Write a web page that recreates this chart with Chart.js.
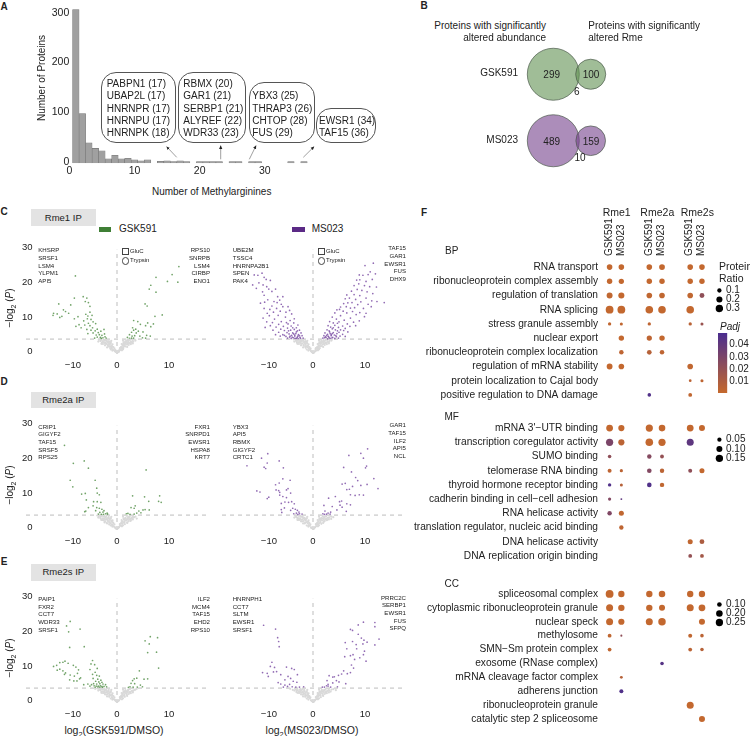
<!DOCTYPE html>
<html>
<head>
<meta charset="utf-8">
<title>Methylarginine figure</title>
<script src="https://cdn.jsdelivr.net/npm/chart.js@4"></script>
<style>
  html, body { margin: 0; padding: 0; background: #fff; }
  body { position: relative; width: 750px; height: 736px; overflow: hidden; font-family: "Liberation Sans", Arial, sans-serif; color: #222; }
  canvas { position: absolute; }
  .t { position: absolute; white-space: nowrap; line-height: 1; }
  .box { position: absolute; border: 0.8px solid #555; border-radius: 15px; box-sizing: border-box; }
  .block { position: absolute; }
  sub { font-size: 0.7em; line-height: 0; }
</style>
</head>
<body>
<svg style="position:absolute;left:0;top:0" width="750" height="200">
  <defs><marker id="ah" markerWidth="5" markerHeight="5" refX="4" refY="2.5" orient="auto"><path d="M0,0.5 L4.5,2.5 L0,4.5 z" fill="#222"/></marker></defs>
  <g stroke="#888" stroke-width="0.8" marker-end="url(#ah)">
    <line x1="176.7" y1="157.3" x2="166.7" y2="146.7" marker-end="url(#ah)"/>
    <line x1="220.7" y1="159.3" x2="220.7" y2="145.7" marker-end="url(#ah)"/>
    <line x1="249.3" y1="159.3" x2="256" y2="145.7" marker-end="url(#ah)"/>
    <line x1="303.3" y1="157.3" x2="314" y2="146.7" marker-end="url(#ah)"/>
  </g>
</svg>
<script>
// panel A
const histBins = [1,2,3,4,5,6,7,8,9,10,11,12,14,15,16,17,18,20,21,22,23,25,26,28,29,34,36];
const histCounts = [309,100,41,30,25,9,16,9,10,7,5,7,4,5,3,5,2,1,2,1,1,1,1,1,1,1,1];
const histXTicks = [0,10,20,30];
const histYTicks = [0,100,200,300];
const geneBox1 = ['PABPN1 (17)','UBAP2L (17)','HNRNPR (17)','HNRNPU (17)','HNRNPK (18)'];
const geneBox2 = ['RBMX (20)','GAR1 (21)','SERBP1 (21)','ALYREF (22)','WDR33 (23)'];
const geneBox3 = ['YBX3 (25)','THRAP3 (26)','CHTOP (28)','FUS (29)'];
const geneBox4 = ['EWSR1 (34)','TAF15 (36)'];

// panel B
const vennRows = ['GSK591','MS023'];
const vennAbundance = [299,489];
const vennRme = [100,159];
const vennBoth = [6,10];

// panels C, D, E
const volcanoXTicks = [-10,0,10];
const volcanoYTicks = [0,10,20,30];
const pCutoff = 4.32;

// the dense grey middle of the V, read roughly, the same look in every panel
const grayCore = [[-.5,1.6],[.55,1.7],[-.7,2],[.75,1.9],[-1,2.4],[1.05,2.5],[-.85,2.8],[.9,2.9],[-1.2,3.35],[1.25,3.4],[-1.1,3.8],[1.15,3.9],[-1.5,2.1],[1.45,2.25],[-1.8,2.6],[1.85,2.75],[-2,3.1],[2.05,3.2],[-2.3,3],[2.35,3.1],[-2.5,3.35],[2.55,3.2],[-1.4,3],[1.35,3.05],[-1.7,3.5],[1.65,3.55],[-2.1,3.9],[2.15,3.7],[-2.4,4],[2.45,4.05],[-2.8,3.4],[2.85,3.5],[-3.2,3.75],[3.15,3.6],[-3.6,3.6],[3.55,3.9],[-1.9,1.9],[1.95,2.05],[-2.3,2.5],[2.25,2.6],[-1.2,1.3],[1.15,1.35],[-.9,1],[.95,1.05],[-.3,.7],[.35,.75],[-1.6,3.4],[1.55,3.3],[-2.7,2.9],[2.65,2.85],[-3,2.95],[3.05,3.05]];

const c1Gray = [[0,0],[.2,.5],[-.2,.6],[.4,.7],[-.4,.8],[.5,1.1],[-.6,1.1],[.7,1.2],[-.8,1.3],[.9,1.5],[-1,1.6],[1,1.9],[-1.1,2],[1.2,2],[-1.3,2.2],[1.3,2.5],[-1.4,2.6],[1.5,2.8],[-1.6,2.9],[1.7,3],[-1.7,3.3],[1.8,3.5],[-1.9,3.6],[1.9,3.9],[-2,3.9],[2.1,4.1],[-2.2,4.2],[1.6,4.1],[-1.6,4.1],[.8,2],[-.9,2.1],[1.1,2.8],[-1.2,3],[1.4,3.4],[-1.4,3.6],[2.2,3.3],[-2.3,3.4],[2.6,3.6],[-2.7,3.7],[3,3.9],[-3.1,4],[2,2.8],[-2.1,2.9],[1.6,2.2],[-1.7,2.3],[1.2,1.6],[-1.3,1.7],[3.4,4.2],[-3.5,4.1],[2.5,4.2],[-2.6,4.2],[.3,1],[-.3,1.1],[2.9,3.2],[-2.9,3.3]];
const c1Sig = [[-8,22.6],[-6.5,16.6],[-5.8,16.2],[-8.2,16.2],[-6.1,15.2],[-5.5,14.9],[-11.2,14.5],[-8.9,14.2],[-5.2,13.8],[-10.3,12.8],[-12.2,11.8],[-11.5,11.6],[-9.9,12.3],[-9.3,11.8],[-10.6,10.9],[-12.3,11.2],[-11,10.6],[-8.2,10.2],[-7.5,10.8],[-6,11.5],[-5.6,11],[-5.2,12.1],[-4.8,11.2],[-5.7,10.2],[-5,10],[-6.4,9.6],[-7.3,8.5],[-6.2,8.4],[-5.5,8.9],[-4.6,9.3],[-5.2,8.2],[-4.1,8.8],[-3.8,7.2],[-4.7,7.6],[-7.9,8],[-6.9,7.6],[-5.8,7.1],[-5,6.9],[-4.2,6.7],[-3.6,6.2],[-3.1,6.6],[-2.5,7.1],[-4.6,6.1],[-5.6,5.9],[-4,5.5],[-3.4,5.6],[-2.9,5.4],[-2.4,5.8],[-3.8,4.9],[-3.2,4.8],[-2.7,4.7],[-2.3,5],[-2.1,4.6],[-4.3,4.6],[-3,4.5],[7.5,22.2],[11.9,25.3],[10.6,23],[9.7,21],[11.7,20.8],[6.5,19.9],[6.2,18.8],[7.5,17.9],[5.4,14.5],[5.8,13.9],[8.7,11.3],[7.3,10.9],[3.2,9.7],[4,9.4],[5.9,9],[5.5,8.2],[3,7.6],[3.6,7.2],[4.5,8.6],[7,8.7],[6.5,7.9],[4.1,6.6],[3.2,6.9],[2.8,6.3],[3.7,6.1],[5,6.4],[5.7,5.4],[2.4,5.6],[2.9,5.2],[3.4,5.3],[4.4,5.2],[2,4.8],[2.4,4.5],[2.8,4.6],[3.2,4.6],[4.9,4.7],[5.5,4.6],[6.4,5.2]];

const c2Gray = [[0,0],[.2,.4],[-.2,.5],[.4,.8],[-.4,.9],[.6,1],[-.6,1.2],[.8,1.4],[-.8,1.5],[1,1.6],[-1,1.9],[1.1,2.1],[-1.2,2.2],[1.3,2.4],[-1.4,2.6],[1.5,2.9],[-1.6,3],[1.7,3.2],[-1.7,3.4],[1.9,3.6],[-1.9,3.8],[2,4],[-2.1,4.1],[1.6,3.9],[-1.5,3.7],[2.4,3.4],[-2.5,3.5],[2.8,3.7],[-2.9,3.8],[3.2,4],[-3.3,3.9],[2.1,2.9],[-2.2,3],[1.7,2.3],[-1.8,2.4],[1.3,1.7],[-1.4,1.8],[.9,2],[-.9,2.2],[1.1,3],[-1.1,3.1],[2.5,4.2],[-2.6,4.1],[3.6,4.2],[-3.7,4.2],[3,3.2],[-3.1,3.3],[.5,1.4],[-.5,1.5],[2.2,3.8],[-2.2,3.7],[1.4,3.4],[-1.3,3.5]];
const c2Sig = [[-11.3,22.9],[-10.6,22.8],[-9.8,23.4],[-9.4,22.2],[-9,21.6],[-8.2,21.3],[-11.6,20],[-10.4,20.6],[-9.6,20],[-8.9,19.5],[-10.9,19],[-7.2,18.8],[-8.5,18.8],[-9.7,18],[-7.9,18.1],[-6.8,16.6],[-5.8,16.6],[-9.4,17],[-8.7,15.7],[-6.4,15.6],[-10.1,14.7],[-9.3,15],[-7.5,15.2],[-6.9,14.9],[-6.1,14.4],[-7.9,13.9],[-4.8,13.7],[-5.8,13.7],[-7,13.2],[-9.4,13.2],[-8.3,12.9],[-6.3,12.4],[-4.5,12.6],[-5.2,12.1],[-7.6,12.1],[-8.8,11.8],[-4.1,11.6],[-6.7,11.2],[-8.4,11.1],[-9.6,10.4],[-5.3,10.7],[-3.6,10.2],[-7.4,10.1],[-6.1,9.4],[-4.4,9.7],[-8.9,9.3],[-5.1,9.1],[-2.9,8.4],[-7.8,9.1],[-3.7,9],[-6.6,8.6],[-4.8,8.7],[-8.2,8.2],[-5.7,8],[-3.2,7.6],[-7.1,7.8],[-4.2,8.1],[-9.2,7.7],[-6.2,7.2],[-2.6,6.9],[-4.9,7.5],[-3.6,7.1],[-7.7,6.9],[-5.5,6.8],[-4.3,6.9],[-3,6.7],[-6.6,6.3],[-2.3,6.1],[-5,6.2],[-3.9,6.1],[-4.6,5.8],[-7.2,5.6],[-3.3,5.9],[-5.8,5.6],[-2.8,5.6],[-4.1,5.4],[-3.5,5.2],[-5.2,5.1],[-2.1,5.3],[-6.3,5.2],[-4.5,4.9],[-3,4.9],[-3.8,4.7],[-2.5,4.8],[-4.9,4.6],[-3.3,4.5],[-2.8,4.4],[-4.2,4.5],[-1.9,4.6],[-3.5,5.5],[-2.9,5.2],[-4.4,5.2],[-3.7,5.8],[-2.6,5.3],[-5.5,5.4],[-3.2,6.4],[-4.7,6.7],[-3.9,7.6],[-2.4,4.5],[-3.1,4.6],[-4,4.9],[-3.6,4.5],[11.6,26.3],[10,25.6],[11,23.8],[12,23.2],[10.6,23],[9.6,22.8],[8.9,22.9],[9,21.5],[8.4,21.4],[10.2,21],[11.4,21.6],[8.8,20.3],[9.9,19.8],[7.9,19.8],[10.9,19.5],[12.2,19.4],[8.5,18.7],[9.4,18.4],[7.4,18.2],[10.4,18],[11.5,17.5],[6.5,17.1],[7.9,17.2],[9,16.9],[6.2,16],[7,16.2],[8.2,15.8],[10.2,16.2],[12.3,15.2],[13.7,14.9],[11.3,15.4],[9.2,15.1],[7.5,14.9],[6.7,14.8],[5.9,14.6],[8.6,14.3],[10.6,14.4],[5.3,13.6],[6.4,13.7],[7.2,13.3],[8,13.4],[9.7,13.2],[11.2,13.7],[5.1,12.9],[4.6,12.8],[5.8,12.4],[7.6,12.3],[9,12],[10.2,11.8],[4.2,11.9],[6.5,11.9],[8.3,11.4],[9.9,10.8],[5.3,11.1],[3.7,10.7],[7.2,10.4],[6,9.8],[4.5,10.1],[8.9,9.6],[5,9.3],[3.2,9.4],[7.8,9.2],[3.9,9],[6.6,8.7],[4.7,8.9],[5.7,8.1],[2.9,8.2],[7.1,8],[4.2,8.3],[8.2,8.2],[6.2,7.4],[3.4,7.8],[4.9,7.7],[3.7,7.3],[5.3,7],[2.7,7],[4.3,7],[3.1,6.7],[6.7,6.4],[2.3,6.1],[5,6.3],[3.9,6.2],[4.6,5.9],[3.3,5.9],[5.7,5.7],[2.8,5.7],[4.1,5.5],[3.5,5.3],[5.2,5.2],[2.1,5.3],[6.2,5.1],[4.5,5],[3,5],[3.8,4.8],[2.5,4.8],[4.9,4.6],[3.3,4.5],[2.8,4.4],[4.2,4.5],[1.9,4.6],[3.5,5.6],[2.9,5.2],[4.4,5.3],[3.7,5.9],[2.6,5.4],[3.2,6.4],[4.7,6.7],[3.9,7.6],[5.9,6.8],[2.4,5],[3.1,4.7],[2.2,4.7],[3.6,4.6]];

const d1Gray = [[0,0],[.2,.5],[-.2,.4],[.4,.9],[-.4,.7],[.6,1.2],[-.6,1],[.8,1.3],[-.8,1.4],[1,1.8],[-1,1.5],[1.2,2.1],[-1.2,1.9],[1.4,2.5],[-1.4,2.3],[1.6,2.8],[-1.6,2.6],[1.8,3.1],[-1.8,3],[2.1,3.4],[-2,3.3],[2.4,3.7],[-2.2,3.6],[2.8,3.3],[-2.5,3.9],[3,3.9],[-2.8,4.1],[1.9,4.1],[-3.1,4],[3.3,3.7],[-3.5,3.8],[-3.8,4.2],[3.8,3.3],[2,2.2],[-2,2.1],[1.5,1.7],[-1.5,1.6],[-2.6,2.8],[2.6,2.6],[-3,3],[-1.1,2.7],[-1.3,3.4],[-1.6,3.8],[.9,2.3],[-.8,2.2],[-2.4,2.2],[-3.2,3.4]];
const d1Sig = [[-10.1,24.5],[-8.4,19.3],[-6.3,20],[-5.5,17.9],[-9,14.4],[-4.2,14.4],[-8.5,12.5],[-3.9,12.1],[-6.8,10.4],[-6.1,10.6],[-3.8,10.7],[-3.4,10.2],[-5.9,8.7],[-4.5,8.2],[-3.8,8.2],[-3.1,8],[-5.5,6.5],[-6,5.5],[-4.6,7],[-3.9,6.5],[-3.4,6.3],[-2.9,6],[-2.5,5.6],[-1.9,4.9],[-6.2,5.3],[-4.1,5.6],[-3.3,5.1],[-2.7,5.2],[-2.2,4.7],[-3.6,4.6],[-3,4.5],[-2.6,4.5],[-1.8,4.6],[5.6,17.4],[3,9.9],[5.3,9.6],[8.2,9.9],[6.1,8.3],[8,8.3],[8.5,8],[3.5,7],[2.7,6.5],[3.3,6.3],[6.2,5.8],[5,5.8],[5.4,5.9],[4.2,5.5],[1.8,4.7],[2.1,4.8],[2.5,4.5],[3.3,4.6],[3.8,4.9],[4.6,5]];
const d2Gray = [[0,0],[.2,.4],[-.2,.5],[.4,.8],[-.4,.7],[.6,1.1],[-.6,1.2],[.8,1.5],[-.8,1.4],[1,1.7],[-1,1.9],[1.2,2],[-1.2,2.3],[1.4,2.6],[-1.4,2.7],[1.6,2.9],[-1.6,3.1],[1.9,3.3],[-1.8,3.4],[2.2,3.6],[-2,3.7],[2.5,3.9],[-2.3,3.9],[3,3.6],[-2.7,4.1],[3.5,3.2],[-3,3.5],[-3.3,3.9],[3.9,3.7],[-2.6,3],[2.1,2.4],[-2.1,2.5],[1.6,1.8],[-1.6,1.9],[2.7,3],[-1.3,3.3],[1.2,3],[-.9,2.4],[.9,2.2],[-3.5,4.2],[1.9,4],[-1.9,4.2],[3.3,4.1],[-2.9,2.9]];
const d2Sig = [[-8.7,22.1],[-9.9,20.8],[-12.7,18.6],[-8.8,19.4],[-6.5,20],[-5.7,18],[-9.4,18.2],[-9.1,17.8],[-5.8,14.8],[-4.4,14.4],[-6.5,13.6],[-7.2,13.1],[-7.1,11.6],[-10.8,11.3],[-10.2,11],[-6.6,11.4],[-6.4,10.9],[-6.4,10.1],[-4.8,12],[-4.3,10.7],[-5.1,11.6],[-8.5,9.5],[-8.8,9.1],[-5.8,9.7],[-5.1,9.4],[-6.1,7.7],[-5.4,8.1],[-4.7,8],[-4.1,8.2],[-3.6,7.6],[-6.1,5.9],[-5.5,6.4],[-6,5.1],[-3.9,6.3],[-4.3,5.7],[-3.4,6],[-3,5.7],[-2.7,5.2],[-3.2,4.9],[-2.6,4.7],[-2.1,4.6],[-2.9,4.5],[-3.7,4.7],[10.5,23.5],[9.2,22.2],[6.9,21.6],[9.7,20.8],[10.3,18.5],[10.1,18],[5.9,18.1],[7.4,16.8],[8.2,15.2],[8.6,14.3],[12.5,12],[11.7,14.9],[5.6,13.3],[6.2,13.5],[7.6,12.6],[9.2,12.9],[10.4,13.2],[7,11.8],[6.5,11.7],[7.2,10.2],[8.1,10],[8.9,10.2],[9.7,10.1],[3,9.2],[4.3,9.7],[5.1,8.2],[5.5,8.4],[2.1,7.1],[3.7,6.8],[5.2,7.2],[5.6,6.6],[6.5,7.6],[7.2,7.3],[2.3,5.5],[3.4,5.2],[2.9,4.9],[1.9,4.7],[2.6,4.6],[2.2,4.5],[3.3,4.6],[4.6,5.8],[6.4,5.4]];

const e1Gray = [[0,0],[.2,.5],[-.2,.5],[.4,.8],[-.4,.9],[.6,1.2],[-.6,1.1],[.8,1.6],[-.8,1.4],[1,1.8],[-1,1.7],[1.2,2.1],[-1.2,2.2],[1.4,2.5],[-1.4,2.4],[1.6,2.9],[-1.6,2.8],[1.8,3.2],[-1.8,3.2],[2,3.6],[-2.1,3.5],[2.2,3.9],[-2.4,3.7],[2.5,4.1],[-2.7,4],[3,3.5],[-3,3.3],[3.4,3.8],[-3.4,3.9],[-3.8,4.2],[1.9,2.4],[-2,2.4],[1.5,1.8],[-1.5,1.8],[2.5,3],[-2.5,2.9],[-1.2,3.1],[1.1,2.8],[-.9,2.2],[.9,2.2],[-1.6,3.8],[1.6,3.7],[-3,4.1],[3.8,4.1],[-4.2,4.1]];
const e1Sig = [[-9,23.6],[-9.7,22.3],[-7.1,21.4],[-9.3,20.6],[-9.1,16.1],[-6.3,16.3],[-4.7,12.3],[-12.2,10.6],[-11.6,10.9],[-11,11.7],[-10.4,11.8],[-10,12.1],[-9.4,11.5],[-8.4,10.9],[-7.9,10.4],[-7.4,9.6],[-11.5,9.5],[-10.4,9.3],[-9.9,8.7],[-9,8.1],[-8.2,7.8],[-7.6,8.6],[-7,7.3],[-11,9.8],[-10.1,8.3],[-9.1,6.7],[-8.3,6.4],[-7.7,6.4],[-7.2,7],[-6.4,5.3],[-5.6,5.5],[-4.9,5.3],[-5,11.3],[-4.3,11.1],[-3.8,10],[-4.2,8.9],[-5.2,9.7],[-4.7,8.3],[-3.9,8],[-3.4,7.8],[-4.6,7.1],[-3.7,6.9],[-3.1,6.6],[-4.1,6.3],[-3.5,6.1],[-2.9,6],[-4.5,5.6],[-3.9,5.5],[-3.3,5.6],[-2.7,5.5],[-2.2,5.3],[-5.2,4.9],[-4.4,5],[-4,4.9],[-3.6,4.9],[-3.2,5],[-2.9,4.8],[-2.5,4.8],[-2,4.7],[-4.2,4.5],[-3.7,4.6],[-3.3,4.6],[-2.8,4.5],[6.4,19.2],[7.8,18.9],[5.4,18],[6.2,17.1],[5.9,14.6],[7.6,14.7],[8,10.1],[4.3,9.3],[3,6.5],[3.3,7],[3.8,7.2],[5.2,6.9],[5.9,7],[2.7,5.7],[3.4,5.6],[4.5,5.2],[4.9,4.7],[2.5,4.7],[3.1,4.6],[3.9,4.6],[2.2,4.5]];
const e2Gray = [[0,0],[.2,.4],[-.2,.5],[.4,.9],[-.4,.8],[.6,1.1],[-.6,1.3],[.8,1.4],[-.8,1.6],[1,1.9],[-1,1.7],[1.2,2.2],[-1.2,2.1],[1.4,2.6],[-1.4,2.4],[1.6,2.9],[-1.6,2.7],[1.8,3.3],[-1.8,3],[2,3.6],[-2,3.3],[2.3,3.8],[-2.3,3.6],[2.6,3.4],[-2.6,3.9],[3,3.9],[-3,3.7],[3.4,3.3],[-3.4,4],[3.9,4],[-3.9,3.8],[1.9,2.3],[-2,2.4],[1.5,1.7],[-1.5,1.8],[2.5,2.9],[-2.6,3],[1.1,2.8],[-1.1,2.9],[.9,2.3],[-.9,2.2],[-4.4,4.1],[4.4,3.7],[1.7,3.8],[-1.7,3.8],[-3.2,3.2]];
const e2Sig = [[-9.5,22.5],[-7.2,21.4],[-6.8,18.9],[-6.6,17.8],[-6.5,16.3],[-7.9,11.8],[-8.2,10.6],[-7.4,10.3],[-7,9.1],[-7.6,9],[-9.7,8.8],[-8.8,8.6],[-5.1,10.4],[-4.1,10],[-3.6,9.7],[-8.6,7.7],[-6.2,8.2],[-3,8.2],[-4.8,7.7],[-4.3,7.1],[-5.4,6.7],[-6.7,5.9],[-6.2,5.5],[-5.4,5.2],[-4.5,5.4],[-3.8,6.3],[-3.1,6],[-4.9,4.8],[-4,4.7],[-3.3,4.6],[-2.6,4.6],[-5.7,4.6],[-1.8,4.7],[9.7,23.4],[11.9,23.3],[11.9,22.1],[8.7,22.6],[7.2,21.3],[7.6,21],[12.7,18.5],[8.7,19.9],[9.3,18.8],[9.8,18.2],[10.4,17.6],[9.6,17.1],[7.6,17.8],[6.2,17.5],[8.3,16.9],[11.9,16.8],[6.5,15.7],[8.4,15.7],[9.9,15],[9.7,14],[7.7,14],[7.2,13.7],[6.1,13.4],[8,12.6],[9,13.1],[10.2,12.1],[7.4,11],[7.8,10.1],[6.6,8.5],[7.2,8.8],[5.5,8.4],[5.9,9.3],[4.9,8],[4.1,7.6],[3.8,7.5],[3.1,7.9],[2.7,6.5],[2.9,5.4],[5,6.1],[4.5,6.5],[6.3,5.6],[2.6,5],[2.9,4.9],[2.2,4.6],[3.8,5.8],[4.7,4.7],[3.4,4.6],[1.8,4.6]];

const geneLists = [
  ['KHSRP','SRSF1','LSM4','YLPM1','API5'], ['RPS10','SNRPB','LSM4','CIRBP','ENO1'],
  ['UBE2M','TSSC4','HNRNPA2B1','SPEN','PAK4'], ['TAF15','GAR1','EWSR1','FUS','DHX9'],
  ['CRIP1','GIGYF2','TAF15','SRSF5','RPS25'], ['FXR1','SNRPD1','EWSR1','HSPA8','KRT7'],
  ['YBX3','API5','RBMX','GIGYF2','CRTC1'], ['GAR1','TAF15','ILF2','API5','NCL'],
  ['PAIP1','FXR2','CCT7','WDR33','SRSF1'], ['ILF2','MCM4','TAF15','EHD2','RPS10'],
  ['HNRNPH1','CCT7','SLTM','EWSR1','SRSF1'], ['PRRC2C','SERBP1','EWSR1','FUS','SFPQ']
];

// panel F
const fColumns = ['GSK591','MS023','GSK591','MS023','GSK591','MS023'];
const fGroups = ['Rme1','Rme2a','Rme2s'];
const padjTicks = [0.01,0.02,0.03,0.04];

const bpTerms = ['RNA transport','ribonucleoprotein complex assembly','regulation of translation','RNA splicing','stress granule assembly','nuclear export','ribonucleoprotein complex localization','regulation of mRNA stability','protein localization to Cajal body','positive regulation to DNA damage'];
const bpRatio = [
  [.17,.17,.17,.18,.17,.17],
  [.16,.15,.16,.16,.16,.16],
  [.19,.2,.17,.17,.17,.13],
  [.33,.33,.31,.31,.31,null],
  [.06,.05,.06,null,.06,.05],
  [null,.16,.15,.16,null,null],
  [null,.11,.12,.11,null,null],
  [.18,.17,null,null,.17,null],
  [null,null,null,null,.04,.05],
  [null,null,.07,null,.08,null]];
const bpPadj = [
  [.001,.001,.001,.001,.001,.001],
  [.001,.001,.001,.001,.001,.001],
  [.002,.001,.002,.002,.002,.022],
  [.001,.001,.001,.001,.001,null],
  [.002,.002,.003,null,.005,.018],
  [null,.001,.003,.001,null,null],
  [null,.003,.006,.003,null,null],
  [.001,.001,null,null,.002,null],
  [null,null,null,null,.004,.003],
  [null,null,.047,null,.002,null]];
const bpLegend = ['0.1','0.2','0.3'];

const mfTerms = ["mRNA 3'\u2212UTR binding",'transcription coregulator activity','SUMO binding','telomerase RNA binding','thyroid hormone receptor binding','cadherin binding in cell\u2212cell adhesion','RNA helicase activity','translation regulator, nucleic acid binding','DNA helicase activity','DNA replication origin binding'];
const mfRatio = [
  [.128,.106,.144,.12,.128,.1],
  [.144,.106,.16,.144,.136,null],
  [.036,null,.054,.04,null,null],
  [.044,.028,.059,.054,.044,.07],
  [.032,.025,.059,.054,null,null],
  [.028,.01,null,null,null,null],
  [.054,.07,null,null,null,null],
  [null,.054,null,null,null,null],
  [null,null,null,null,.07,.064],
  [null,null,null,null,.04,.04]];
const mfPadj = [
  [.001,.001,.001,.001,.001,.001],
  [.03,.004,.001,.001,.042,null],
  [.022,null,.026,.02,null,null],
  [.003,.004,.027,.004,.022,.001],
  [.047,.006,.047,.002,null,null],
  [.027,.042,null,null,null,null],
  [.028,.002,null,null,null,null],
  [null,.003,null,null,null,null],
  [null,null,null,null,.002,.01],
  [null,null,null,null,.02,.014]];
const mfLegend = ['0.05','0.10','0.15'];

const ccTerms = ['spliceosomal complex','cytoplasmic ribonucleoprotein granule','nuclear speck','methylosome','SMN\u2212Sm protein complex','exosome (RNase complex)','mRNA cleavage factor complex','adherens junction','ribonucleoprotein granule','catalytic step 2 spliceosome'];
const ccRatio = [
  [.285,.19,.19,.2,.19,.19],
  [.23,.19,.19,.17,.23,.215],
  [.23,.18,.23,.26,null,.17],
  [.068,.02,null,null,.075,.06],
  [.068,null,null,null,.068,.06],
  [null,null,null,.06,null,null],
  [null,.04,null,null,null,null],
  [null,.075,null,null,null,null],
  [null,null,null,null,.23,null],
  [null,null,null,null,null,.17]];
const ccPadj = [
  [.001,.001,.001,.001,.001,.001],
  [.001,.001,.001,.001,.001,.001],
  [.001,.001,.001,.001,null,.001],
  [.002,.022,null,null,.002,.004],
  [.002,null,null,null,.004,.006],
  [null,null,null,.045,null,null],
  [null,.006,null,null,null,null],
  [null,.047,null,null,null,null],
  [null,null,null,null,.001,null],
  [null,null,null,null,null,.001]];
const ccLegend = ['0.10','0.20','0.25'];

Chart.defaults.animation = false;
Chart.defaults.responsive = false;
Chart.defaults.font.family = '"Liberation Sans", Arial, sans-serif';
Chart.defaults.color = '#222';
Chart.defaults.plugins.legend.display = false;
Chart.defaults.plugins.tooltip.enabled = false;
Chart.defaults.layout.padding = 0;
Chart.defaults.layout.autoPadding = false;

// fixed axis sizes so the plot areas land where the figure has them
const fitAxis = (w, h) => s => {
  if (w != null) s.width = w;
  if (h != null) s.height = h;
  s.paddingLeft = s.paddingRight = s.paddingTop = s.paddingBottom = 0;
};
const tickAt = vals => s => { s.ticks = vals.map(value => ({ value })); };
const plain = { display: false, drawTicks: false };

function addChart(left, top, width, height, config) {
  const c = document.createElement('canvas');
  c.width = width;
  c.height = height;
  c.style.left = left + 'px';
  c.style.top = top + 'px';
  document.body.appendChild(c);
  return new Chart(c, config);
}

function put(x, y, html, size, align, extra) {
  const el = document.createElement('div');
  el.className = 't';
  el.innerHTML = html;
  el.style.left = x + 'px';
  el.style.top = y + 'px';
  el.style.fontSize = size + 'px';
  const tx = align === 'r' ? '-100%' : align === 'c' ? '-50%' : '0';
  el.style.transform = `translate(${tx},-50%)` + (extra || '');
  document.body.appendChild(el);
  return el;
}

function block(x, y, w, h, color) {
  const el = document.createElement('div');
  el.className = 'block';
  el.style.cssText = `left:${x}px;top:${y}px;width:${w}px;height:${h}px;background:${color}`;
  document.body.appendChild(el);
}

// panel letters
[['A',4,7],['B',424,6],['C',4,212],['D',4,382],['E',4,562],['F',424,213]].forEach(l => {
  put(l[1], l[2], l[0], 10, 'c').style.fontWeight = 'bold';
});

// A: histogram
addChart(30, 0, 287, 180, {
  type: 'bar',
  data: { datasets: [{
    data: histBins.map((b, i) => ({ x: b, y: histCounts[i] })),
    backgroundColor: '#a0a0a0', borderColor: '#777', borderWidth: 0.6,
    barPercentage: 1, categoryPercentage: 1, minBarLength: 1.8
  }] },
  options: { scales: {
    x: { type: 'linear', offset: false, min: 0, max: 38, grid: plain, border: { display: false }, afterBuildTicks: tickAt(histXTicks), afterFit: fitAxis(null, 16.7),
      ticks: { font: { size: 10.5 }, padding: 2, maxRotation: 0 } },
    y: { min: 0, max: 328, grid: plain, border: { display: false }, afterBuildTicks: tickAt(histYTicks), afterFit: fitAxis(39.3, null),
      ticks: { font: { size: 10.5 }, padding: 0, labelOffset: -1.3 } }
  } }
});
put(41.7, 78, 'Number of Proteins', 10, 'c', ' rotate(-90deg)');
put(211.7, 191.7, 'Number of Methylarginines', 10, 'c');
[[geneBox1,100.7,72.3,75,71,106.7],[geneBox2,178.3,72.3,67.7,71,183.3],[geneBox3,249,82.3,66,61,252.3],[geneBox4,315.7,108.3,60.3,35,319]].forEach(b => {
  const el = document.createElement('div');
  el.className = 'box';
  el.style.cssText = `left:${b[1]}px;top:${b[2]}px;width:${b[3]}px;height:${b[4]}px`;
  document.body.appendChild(el);
  b[0].forEach((g, i) => put(b[5], 132.7 - (b[0].length - 1 - i) * 12.1, g, 10, 'l'));
});

// B: venn rows, bubble area follows the counts
const vennMax = vennAbundance.map((n, i) => Math.max(n, vennRme[i]));
const vennGreen = 'rgba(97,145,82,0.6)', vennPurple = 'rgba(117,65,140,0.6)';
addChart(480, 40.5, 140, 133, {
  type: 'bubble',
  data: { datasets: [{
    data: vennRows.flatMap((row, i) => [
      { x: 33.3, y: row, r: 26 * Math.sqrt(vennAbundance[i] / vennMax[i]) },
      { x: 70.7, y: row, r: 26 * Math.sqrt(vennRme[i] / vennMax[i]) }
    ]),
    backgroundColor: [vennGreen, vennGreen, vennPurple, vennPurple],
    borderColor: '#4c5a4c', borderWidth: 0.7, clip: false
  }] },
  options: { scales: {
    x: { type: 'linear', min: 0, max: 100, display: false },
    y: { type: 'category', labels: vennRows, offset: true, grid: plain, border: { display: false }, afterFit: fitAxis(40, null),
      ticks: { font: { size: 10 }, padding: 2, labelOffset: -0.7 } }
  } }
});
put(546, 26, 'Proteins with significantly', 10, 'r');
put(546, 38.3, 'altered abundance', 10, 'r');
put(588.3, 26, 'Proteins with significantly', 10, 'l');
put(588.3, 38.3, 'altered Rme', 10, 'l');
vennRows.forEach((r, i) => {
  const y = 75.3 + i * 66.4;
  put(551.7, y, vennAbundance[i], 10, 'c');
  put(591, y, vennRme[i], 10, 'c');
  put(i ? 580 : 576.7, y + 17 - (i ? 0.4 : 0), vennBoth[i], 10, 'c');
});

// C, D, E: volcano plots
function volcano(x0, y0, gray, sig, color, showY) {
  const ux = 5.22, uy = 3.47, yMax = 33;
  const areaLeft = x0 - 17.5 * ux, areaH = yMax * uy;
  addChart(areaLeft - 13, y0 - areaH, 35 * ux + 13, areaH + 18, {
    type: 'scatter',
    data: { datasets: [
      { data: gray.concat(grayCore), backgroundColor: '#d9d9d9', pointRadius: 1.1, pointBorderWidth: 0 },
      { data: sig, backgroundColor: color, pointRadius: 0.85, pointBorderWidth: 0 },
      { data: [[-17.5, pCutoff], [17.5, pCutoff]], showLine: true, borderColor: '#b5b5b5', borderWidth: 0.9, borderDash: [4, 4], pointRadius: 0 },
      { data: [[0, 0], [0, 30.2]], showLine: true, borderColor: '#b5b5b5', borderWidth: 0.9, borderDash: [4, 4], pointRadius: 0 }
    ] },
    options: { scales: {
      x: { type: 'linear', min: -17.5, max: 17.5, grid: plain, border: { display: false }, afterBuildTicks: tickAt(volcanoXTicks), afterFit: fitAxis(null, 18),
        ticks: { font: { size: 9.5 }, padding: 6, maxRotation: 0, callback: v => v < 0 ? '      \u2212' + (-v) : String(v) } },
      y: { min: 0, max: yMax, grid: plain, border: { display: false }, afterBuildTicks: tickAt(volcanoYTicks), afterFit: fitAxis(13, null),
        ticks: { display: showY, mirror: true, crossAlign: 'far', font: { size: 9.5 }, padding: -4, labelOffset: -2.5 } }
    } }
  });
}
const green = 'rgba(78,140,66,0.8)', purple = 'rgba(118,70,160,0.8)';
volcano(117.3, 354.3, c1Gray, c1Sig, green, true);
volcano(313.3, 354.3, c2Gray, c2Sig, purple, false);
volcano(117.3, 531, d1Gray, d1Sig, green, true);
volcano(313.3, 531, d2Gray, d2Sig, purple, false);
volcano(117.3, 703.3, e1Gray, e1Sig, green, true);
volcano(313.3, 703.3, e2Gray, e2Sig, purple, false);

block(30.7, 209.3, 65.3, 16.4, '#e3e3e3');
block(30.7, 392, 65.3, 15.7, '#e3e3e3');
block(30.7, 564, 65.3, 16.7, '#e3e3e3');
put(63.3, 217.5, 'Rme1 IP', 9.5, 'c');
put(63.3, 399.8, 'Rme2a IP', 9.5, 'c');
put(63.3, 572.3, 'Rme2s IP', 9.5, 'c');
block(99, 226.7, 12, 5.6, '#3f7f35');
put(119, 229.3, 'GSK591', 10, 'l');
block(292.3, 226.7, 12.4, 5.6, '#5b2a86');
put(311.7, 229.3, 'MS023', 10, 'l');

[[121.7,130],[317.7,326]].forEach(k => {
  const sq = document.createElement('div');
  sq.className = 'block';
  sq.style.cssText = `left:${k[0]}px;top:248px;width:5.5px;height:5px;border:0.7px solid #444`;
  document.body.appendChild(sq);
  const ci = document.createElement('div');
  ci.className = 'block';
  ci.style.cssText = `left:${k[0]}px;top:257.2px;width:5.5px;height:5.5px;border:0.7px solid #444;border-radius:50%`;
  document.body.appendChild(ci);
  put(k[1], 250.5, 'GluC', 6, 'l');
  put(k[1], 260, 'Trypsin', 6, 'l');
});

// gene name columns: [left list x, align, first y]
[[38.3,'l',250.3],[210,'r',250.3],[232.7,'l',250.3],[406,'r',248.3],
 [38.3,'l',426.7],[210,'r',426.7],[232.7,'l',426.7],[406,'r',425.3],
 [38.3,'l',599],[210,'r',599],[232.7,'l',599],[406,'r',597.7]].forEach((g, i) => {
  geneLists[i].forEach((name, j) => put(g[0], g[2] + j * 7.67, name, 6.1, g[1]));
});

[308, 484.7, 658].forEach(y => put(10, y, '\u2212log<sub>2</sub> (<i>P</i>)', 10, 'c', ' rotate(-90deg)'));
put(114, 730, 'log<sub>2</sub>(GSK591/DMSO)', 10.5, 'c');
put(312, 730, 'log<sub>2</sub>(MS023/DMSO)', 10.5, 'c');

// F: dot plots
const colX = [0, 0.98, 3.31, 4.37, 6.72, 7.7];

function padjColor(p) {
  const t = Math.min(p / 0.05, 1);
  return `rgb(${Math.round(197 - 123 * t)},${Math.round(105 - 60 * t)},${Math.round(45 + 98 * t)})`;
}

function dotPlot(top, rowH, terms, ratio, padj, k, head) {
  const pts = [], colors = [];
  terms.forEach((term, i) => ratio[i].forEach((v, j) => {
    if (v == null) return;
    pts.push({ x: colX[j], y: term, r: k * Math.sqrt(v) });
    colors.push(padjColor(padj[i][j]));
  }));
  const axisH = head ? 48 : 0;
  addChart(397.7, top - axisH, 318, rowH * 10 + axisH, {
    type: 'bubble',
    data: { datasets: [{ data: pts, backgroundColor: colors, borderWidth: 0 }] },
    options: { scales: {
      x: head ? { type: 'linear', position: 'top', min: -0.967, max: 8.87, grid: plain, border: { display: false },
        afterBuildTicks: tickAt(colX), afterFit: fitAxis(null, axisH),
        ticks: { autoSkip: false, minRotation: 90, maxRotation: 90, font: { size: 10 }, padding: 4, labelOffset: 11.5, callback: (v, i) => fColumns[i] } }
        : { type: 'linear', min: -0.967, max: 8.87, display: false },
      y: { type: 'category', labels: terms, offset: true, grid: plain, border: { display: false }, afterFit: fitAxis(200, null),
        ticks: { autoSkip: false, font: { size: 10.2 }, padding: 0 } }
    } }
  });
}
dotPlot(259.6, 14.26, bpTerms, bpRatio, bpPadj, 6.8, true);
dotPlot(420.6, 14.22, mfTerms, mfRatio, mfPadj, 9.5, false);
dotPlot(586.7, 13.96, ccTerms, ccRatio, ccPadj, 7.3, false);

fGroups.forEach((g, i) => put([616.7, 657.3, 697.3][i], 212.3, g, 10.5, 'c'));
put(451.7, 250.7, 'BP', 10, 'c');
put(451.7, 416.7, 'MF', 10, 'c');
put(451.7, 584, 'CC', 10, 'c');

// size legends, a little room above and below so the labels are not cut
function sizeLegend(top, rowH, labels, k) {
  addChart(712, top - 4, 38, rowH * 3 + 8, {
    type: 'bubble',
    data: { datasets: [{
      data: labels.map(l => ({ x: 0, y: l, r: k * Math.sqrt(parseFloat(l)) })),
      backgroundColor: '#000', borderWidth: 0
    }] },
    options: { layout: { padding: { top: 4, bottom: 4 } }, scales: {
      x: { type: 'linear', min: -7.4, max: 3.6, display: false },
      y: { type: 'category', position: 'right', labels, offset: true, grid: plain, border: { display: false }, afterFit: fitAxis(27, null),
        ticks: { autoSkip: false, font: { size: 10 }, padding: 3 } }
    } }
  });
}
sizeLegend(285.5, 9.2, bpLegend, 6.8);
sizeLegend(435.4, 9.5, mfLegend, 9.5);
sizeLegend(599.7, 9.2, ccLegend, 7.3);
put(719, 266.3, 'Protein', 10.5, 'l');
put(719, 278.3, 'Ratio', 10.5, 'l');
put(720, 326.7, '<i>Padj</i>', 10, 'l');

// colour bar
addChart(717.7, 332.7, 32.3, 60.6, {
  type: 'bar',
  data: { labels: ['Padj'], datasets: [{
    data: [[0, 0.0497]], barPercentage: 1, categoryPercentage: 1,
    backgroundColor: ctx => {
      const a = ctx.chart.chartArea;
      if (!a) return '#000';
      const g = ctx.chart.ctx.createLinearGradient(0, a.bottom, 0, a.top);
      g.addColorStop(0, padjColor(0));
      g.addColorStop(1, padjColor(0.05));
      return g;
    }
  }] },
  options: { scales: {
    x: { display: false },
    y: { position: 'right', min: 0, max: 0.0497, grid: plain, border: { display: false }, afterBuildTicks: tickAt(padjTicks), afterFit: fitAxis(22.7, null),
      ticks: { font: { size: 10 }, padding: 2, callback: v => v.toFixed(2) } }
  } }
});
</script>
</body>
</html>
